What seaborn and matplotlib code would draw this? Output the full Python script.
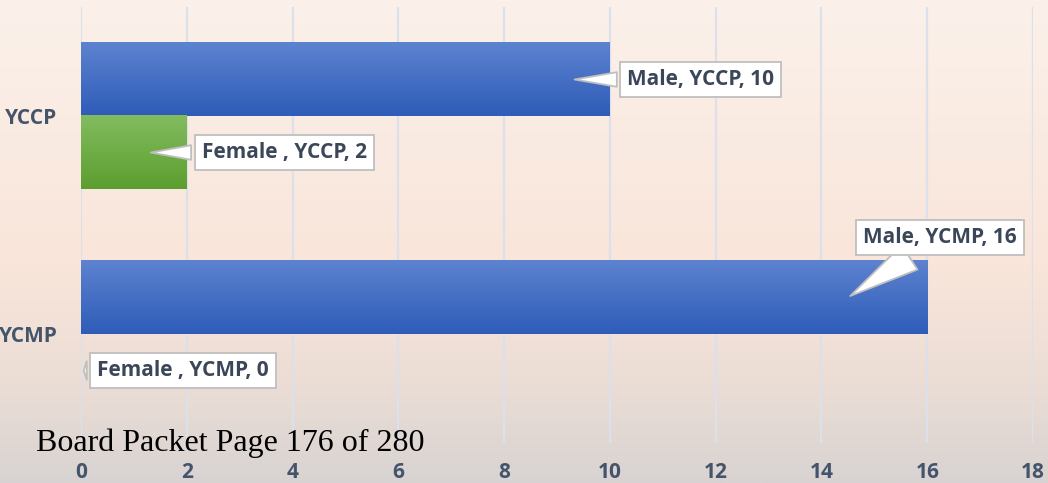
import numpy as np
import pandas as pd
import matplotlib
matplotlib.use("Agg")
import matplotlib.pyplot as plt
import seaborn as sns
from matplotlib.colors import LinearSegmentedColormap

# ---- data ----
programs = ["YCCP", "YCCP", "YCMP", "YCMP"]
genders = ["Male", "Female", "Male", "Female"]
counts = [10, 2, 16, 0]
label_names = ["Male", "Female ", "Male", "Female "]
x_ticks = [0, 2, 4, 6, 8, 10, 12, 14, 16, 18]
footer = "Board Packet Page 176 of 280"

df = pd.DataFrame({"Program": programs, "Gender": genders, "Count": counts})

sns.set_theme(style="white")
plt.rcParams["font.family"] = ["Open Sans", "DejaVu Sans"]

W, H = 1048, 483
fig = plt.figure(figsize=(W / 100, H / 100), dpi=100)

# background gradient
bg = fig.add_axes([0, 0, 1, 1], zorder=-10)
bg_cmap = LinearSegmentedColormap.from_list(
    "bg", [(0, "#FBF1EA"), (0.55, "#F9E5DA"), (0.8, "#EBDDD5"), (1, "#D8D3D2")])
bg.imshow(np.linspace(0, 1, 256).reshape(-1, 1), aspect="auto", cmap=bg_cmap,
          extent=[0, 1, 0, 1], origin="upper")
bg.axis("off")

ax = fig.add_axes([81 / W, (H - 443) / H, (1033 - 81) / W, 436 / H])
ax.set_facecolor("none")

colors = {"Male": "#4470C8", "Female": "#6FAE45"}
sns.barplot(data=df, y="Program", x="Count", hue="Gender", orient="h",
            hue_order=["Male", "Female"], palette=colors, width=0.67,
            gap=0, dodge=True, ax=ax, legend=False, zorder=2, edgecolor="none",
            linewidth=0)

grads = {
    "Male": LinearSegmentedColormap.from_list("m", ["#5D83D0", "#2E5CB8"]),
    "Female": LinearSegmentedColormap.from_list("f", ["#83BC60", "#5C9E2E"]),
}

patches = [p for p in ax.patches if p.get_height() > 0]
hue_levels = ["Male", "Female"]
cats = ["YCCP", "YCMP"]
bar_info = {}
i = 0
for h in hue_levels:
    for c in cats:
        p = patches[i]
        i += 1
        bar_info[(h, c)] = p
        w = p.get_width()
        if w > 0:
            y0, hh = p.get_y(), p.get_height()
            ax.imshow(np.linspace(0, 1, 128).reshape(-1, 1), cmap=grads[h],
                      aspect="auto", extent=[p.get_x(), p.get_x() + w, y0 + hh, y0],
                      origin="upper", zorder=3, clip_path=p, clip_on=True)
ax.set_xlim(0, 18)
ax.set_ylim(1.5, -0.5)

# grid
ax.set_xticks(x_ticks)
ax.grid(axis="x", color="#DCE0EA", linewidth=1.6, zorder=0)
ax.grid(axis="y", visible=False)
ax.set_axisbelow(True)
for s in ax.spines.values():
    s.set_visible(False)
ax.set_xlabel("")
ax.set_ylabel("")
tick_color = "#44546A"
ax.tick_params(axis="x", length=0, pad=14, labelsize=15, labelcolor=tick_color)
ax.tick_params(axis="y", length=0, pad=17, labelsize=15, labelcolor=tick_color)
for lab in ax.get_xticklabels() + ax.get_yticklabels():
    lab.set_fontweight("bold")

# callouts: (tip offset from bar end, text center offset from bar end, y offset in bar units, wedge width)
layout = {
    ("Male", "YCCP"): (-0.72, 1.72, 0.0, 0.7),
    ("Female", "YCCP"): (-0.73, 1.84, 0.0, 0.7),
    ("Male", "YCMP"): (-1.5, 0.24, -1.0, 1.4),
    ("Female", "YCMP"): (0.0, 1.93, 0.0, 0.9),
}
for k, (h, c) in enumerate(zip(genders, programs)):
    p = bar_info[(h, c)]
    val = counts[k]
    yc = p.get_y() + p.get_height() / 2
    tip_dx, txt_dx, ydy, tw = layout[(h, c)]
    tip = (val + tip_dx, yc)
    txt = (val + txt_dx, yc + ydy * p.get_height() * 0.82)
    ax.annotate(f"{label_names[k]}, {c}, {val}", xy=tip, xytext=txt,
                ha="center", va="center", fontsize=15, fontweight="bold",
                color="#3B4759", zorder=6,
                bbox=dict(boxstyle="square,pad=0.34", fc="white", ec="#BFBFBF", lw=1.3),
                arrowprops=dict(arrowstyle=f"wedge,tail_width={tw},shrink_factor=0.5",
                                fc="white", ec="#BFBFBF", lw=1.3))

fig.text(36 / W, (H - 451) / H, footer, family="Liberation Serif", fontsize=23,
         color="black", ha="left", va="baseline")

fig.savefig("out.png", dpi=100)
